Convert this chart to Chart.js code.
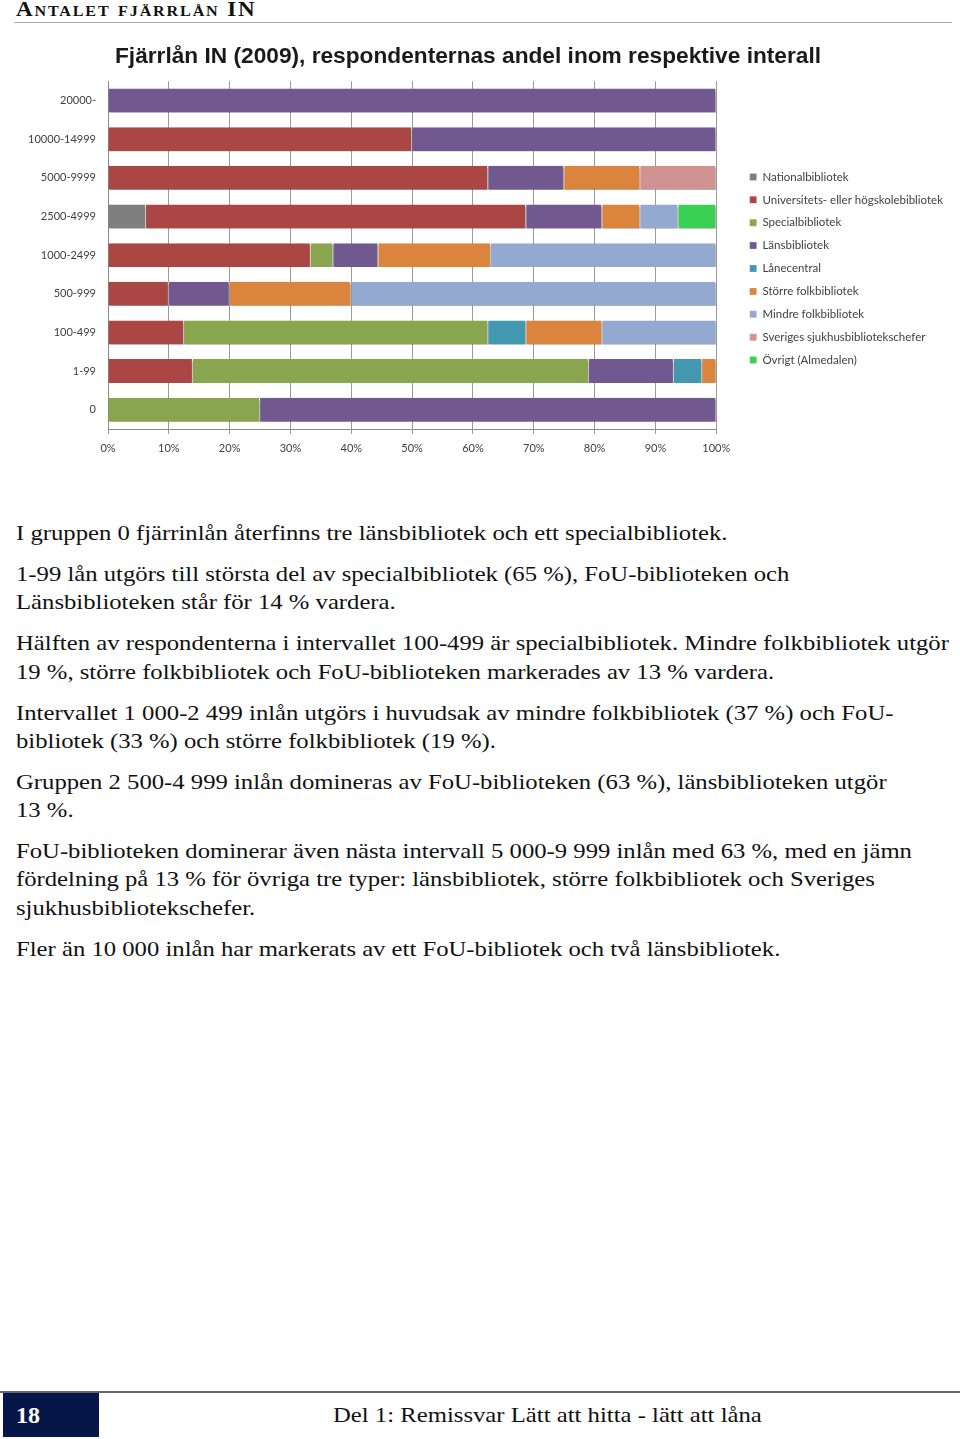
<!DOCTYPE html>
<html>
<head>
<meta charset="utf-8">
<script src="https://cdn.jsdelivr.net/npm/chart.js@4"></script>
<style>
  html, body { margin:0; padding:0; background:#fff; }
  body { width:960px; height:1439px; position:relative; overflow:hidden; }
  .hdr { position:absolute; left:16px; top:-2px; font-family:"Liberation Serif","Times New Roman",serif; font-weight:bold; font-size:20px; font-variant:small-caps; letter-spacing:1.6px; color:#111; white-space:nowrap; transform:scaleX(1.15); transform-origin:0 0; }
  .hdrline { position:absolute; left:14px; top:22px; width:938px; height:1px; background:#aaa; }
  #wrap { position:absolute; left:0; top:35px; width:960px; height:430px; }
  .txt { position:absolute; left:16px; top:519px; font-family:"Liberation Serif","Times New Roman",serif; font-size:22px; line-height:28.3px; color:#111; white-space:nowrap; transform:scaleX(1.122); transform-origin:0 0; }
  .txt p { margin:0 0 12.7px 0; }
  .fline { position:absolute; left:0; top:1391px; width:960px; height:2px; background:#666; }
  .fbox { position:absolute; left:3px; top:1393px; width:96px; height:44px; background:#061649; }
  .fnum { position:absolute; left:16px; top:1400px; font-family:"Liberation Serif",serif; font-weight:bold; font-size:24px; line-height:30px; color:#fff; }
  .ftxt { position:absolute; left:333px; top:1400px; font-family:"Liberation Serif",serif; font-size:22px; line-height:30px; color:#111; white-space:nowrap; transform:scaleX(1.123); transform-origin:0 0; }
</style>
</head>
<body>
<div class="hdr">Antalet fjärrlån IN</div>
<div class="hdrline"></div>
<div id="wrap"><canvas id="c"></canvas></div>
<div class="txt">
<p>I gruppen 0 fjärrinlån återfinns tre länsbibliotek och ett specialbibliotek.</p>
<p>1-99 lån utgörs till största del av specialbibliotek (65 %), FoU-biblioteken och<br>Länsbiblioteken står för 14 % vardera.</p>
<p>Hälften av respondenterna i intervallet 100-499 är specialbibliotek. Mindre folkbibliotek utgör<br>19 %, större folkbibliotek och FoU-biblioteken markerades av 13 % vardera.</p>
<p>Intervallet 1 000-2 499 inlån utgörs i huvudsak av mindre folkbibliotek (37 %) och FoU-<br>bibliotek (33 %) och större folkbibliotek (19 %).</p>
<p>Gruppen 2 500-4 999 inlån domineras av FoU-biblioteken (63 %), länsbiblioteken utgör<br>13 %.</p>
<p>FoU-biblioteken dominerar även nästa intervall 5 000-9 999 inlån med 63 %, med en jämn<br>fördelning på 13 % för övriga tre typer: länsbibliotek, större folkbibliotek och Sveriges<br>sjukhusbibliotekschefer.</p>
<p>Fler än 10 000 inlån har markerats av ett FoU-bibliotek och två länsbibliotek.</p>
</div>
<div class="fline"></div>
<div class="fbox"></div>
<div class="fnum">18</div>
<div class="ftxt">Del 1: Remissvar Lätt att hitta - lätt att låna</div>

<script>
const categories = ["20000-", "10000-14999", "5000-9999", "2500-4999", "1000-2499", "500-999", "100-499", "1-99", "0"];
const xTickValues = [0, 10, 20, 30, 40, 50, 60, 70, 80, 90, 100];
const seriesNames = ["Nationalbibliotek", "Universitets- eller högskolebibliotek", "Specialbibliotek", "Länsbibliotek", "Lånecentral", "Större folkbibliotek", "Mindre folkbibliotek", "Sveriges sjukhusbibliotekschefer", "Övrigt (Almedalen)"];
const seriesColors = ["#7f7f7f", "#aa4643", "#89a54e", "#71588f", "#4198af", "#db843d", "#93a9cf", "#d19392", "#3ccf55"];
const nationalbibliotek = [null, null, null, 6.25, null, null, null, null, null];
const universitet      = [null, 50, 62.5, 62.5, 33.33, 10, 12.5, 13.95, null];
const specialbibliotek = [null, null, null, null, 3.70, null, 50, 65.12, 25];
const lansbibliotek    = [100, 50, 12.5, 12.5, 7.41, 10, null, 13.95, 75];
const lanecentral      = [null, null, null, null, null, null, 6.25, 4.65, null];
const storreFolk       = [null, null, 12.5, 6.25, 18.52, 20, 12.5, 2.33, null];
const mindreFolk       = [null, null, null, 6.25, 37.04, 60, 18.75, null, null];
const sjukhus          = [null, null, 12.5, null, null, null, null, null, null];
const ovrigt           = [null, null, null, 6.25, null, null, null, null, null];
const seriesValues = [nationalbibliotek, universitet, specialbibliotek, lansbibliotek, lanecentral, storreFolk, mindreFolk, sjukhus, ovrigt];

const shadowPlugin = {
  id: 'barShadow',
  beforeDatasetsDraw(chart) {
    const ctx = chart.ctx;
    ctx.save();
    ctx.shadowColor = 'rgba(0,0,0,0.35)';
    ctx.shadowOffsetX = 1;
    ctx.shadowOffsetY = 2;
    ctx.shadowBlur = 2;
  },
  afterDatasetsDraw(chart) { chart.ctx.restore(); }
};

// leave a gap between the plot area and the legend
const legendGap = {
  id: 'legendGap',
  afterLayout(chart) {
    const lg = chart.legend;
    if (lg) { lg.left += 22; lg.right += 22; }
  }
};

const tickFont = { family: "Lato, 'Open Sans', sans-serif", size: 11 };
const legendFont = { family: "Lato, 'Open Sans', sans-serif", size: 11.5 };

new Chart(document.getElementById('c'), {
  type: 'bar',
  data: {
    labels: categories,
    datasets: seriesNames.map((n, i) => ({
      label: n,
      data: seriesValues[i],
      backgroundColor: seriesColors[i],
      borderColor: 'rgba(255,255,255,0.9)',
      borderWidth: { right: 1, left: 0, top: 0, bottom: 0 },
      borderSkipped: false,
      barPercentage: 0.62,
      categoryPercentage: 1
    }))
  },
  plugins: [shadowPlugin, legendGap],
  options: {
    indexAxis: 'y',
    responsive: true,
    maintainAspectRatio: false,
    animation: false,
    layout: { padding: { left: 5, right: 29, top: 0, bottom: 6 } },
    plugins: {
      title: {
        display: true,
        text: 'Fjärrlån IN (2009), respondenternas andel inom respektive interall',
        font: { family: "'Liberation Sans', Arial, sans-serif", size: 22.7, weight: 'bold' },
        color: '#1a1a1a',
        padding: { top: 8, bottom: 11 }
      },
      legend: {
        position: 'right',
        align: 'center',
        title: { display: true, text: '', font: { size: 10 }, padding: { top: 0, bottom: 31 } },
        labels: { boxWidth: 7, boxHeight: 7, padding: 11.4, font: legendFont, color: '#404040' }
      },
      tooltip: { enabled: false }
    },
    scales: {
      x: {
        stacked: true,
        min: 0, max: 100,
        afterBuildTicks: (s) => { s.ticks = xTickValues.map(v => ({ value: v })); },
        afterFit: (s) => { s.height = 30; },
        ticks: { callback: (v) => v + '%', font: tickFont, color: '#404040', padding: 8, maxRotation: 0 },
        grid: { color: '#9a9a9a', lineWidth: 1, tickLength: 5, drawTicks: true },
        border: { color: '#8a8a8a' }
      },
      y: {
        stacked: true,
        afterFit: (s) => { s.width = 103; },
        ticks: { font: tickFont, color: '#404040', padding: 12 },
        grid: { display: false, drawTicks: false },
        border: { color: '#8a8a8a' }
      }
    }
  }
});
</script>
</body>
</html>
